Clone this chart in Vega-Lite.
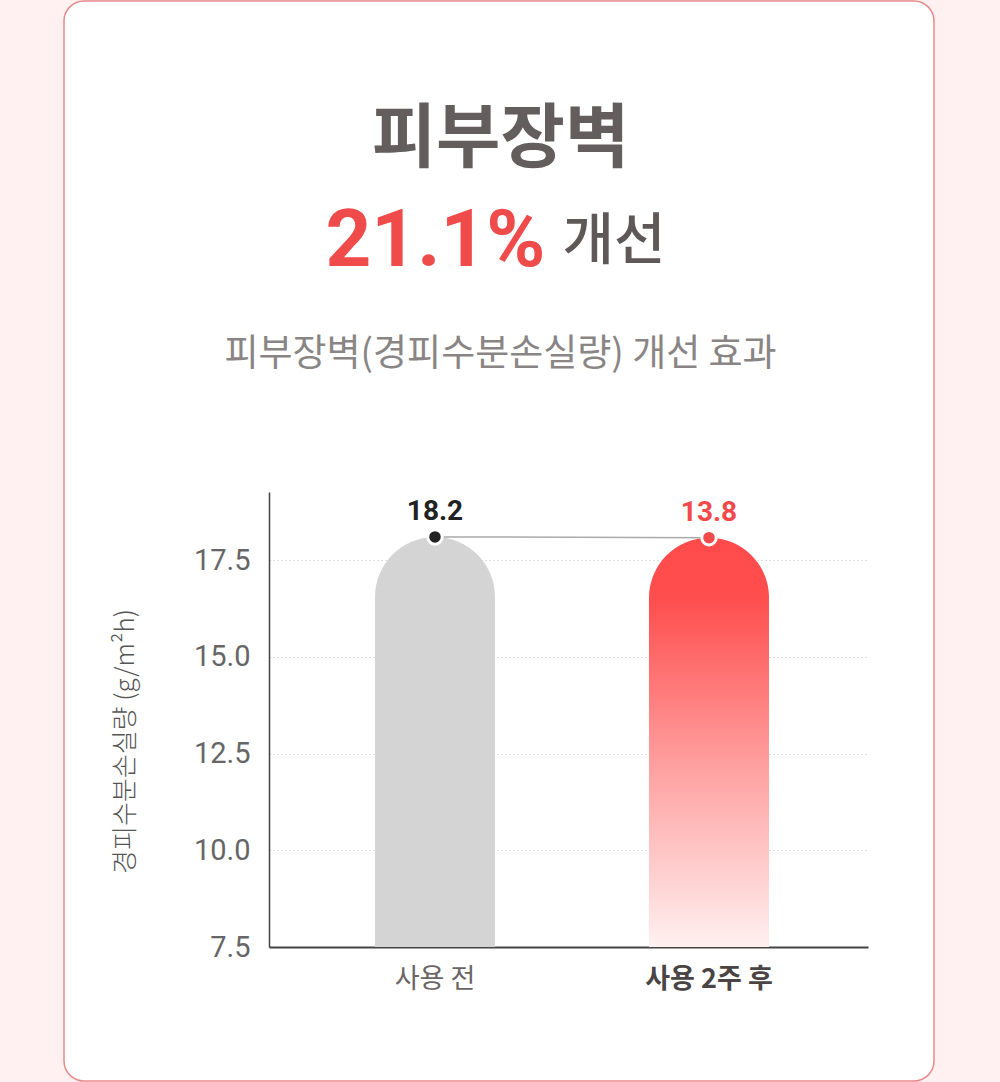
{
  "$schema": "https://vega.github.io/schema/vega-lite/v6.json",
  "description": "피부장벽(경피수분손실량) 개선 효과",
  "width": 870,
  "height": 1080,
  "autosize": {"type": "none"},
  "padding": {"left": 64, "top": 1, "right": 66, "bottom": 1},
  "background": "#fff1f1",
  "config": {
    "view": {"fill": "#ffffff", "stroke": "#e98a8a", "strokeWidth": 1.5, "cornerRadius": 20},
    "font": "Noto Sans CJK KR"
  },
  "data": {
    "values": [
      {"category": "사용 전", "barTop": 18.1, "label": "18.2"},
      {"category": "사용 2주 후", "barTop": 18.08, "label": "13.8"}
    ]
  },
  "resolve": {"axis": {"x": "independent"}},
  "encoding": {
    "y": {
      "field": "barTop",
      "type": "quantitative",
      "title": "경피수분손실량 (g/m²h)",
      "scale": {"domain": [7.5, 19.26], "range": [946, 491], "nice": false, "zero": false},
      "axis": {
        "offset": -205,
        "values": [7.5, 10, 12.5, 15, 17.5],
        "format": ".1f",
        "domainColor": "#444444",
        "domainWidth": 1.5,
        "ticks": false,
        "labelPadding": 19,
        "labelFontSize": 29,
        "labelFont": "Roboto",
        "labelColor": "#666666",
        "grid": true,
        "gridColor": "#d6d6d6",
        "gridDash": [1.5, 2.5],
        "titleFont": "Noto Sans CJK KR",
        "titleFontSize": 26,
        "titleFontWeight": 300,
        "titleColor": "#555555",
        "titleX": -144,
        "titleY": 740,
        "titleAlign": "center",
        "titleBaseline": "middle",
        "titleAngle": -90
      }
    }
  },
  "layer": [
    {
      "mark": {"type": "bar", "cornerRadiusTopLeft": 60, "cornerRadiusTopRight": 60},
      "encoding": {
        "x": {
          "field": "category",
          "type": "nominal",
          "sort": ["사용 전", "사용 2주 후"],
          "scale": {"range": [205, 804], "paddingInner": 0.562, "paddingOuter": 0.374, "align": 0.517},
          "axis": {
            "orient": "bottom",
            "offset": -134,
            "title": null,
            "labelAngle": 0,
            "domainColor": "#444444",
            "domainWidth": 2,
            "ticks": false,
            "labelPadding": 19,
            "labelFontSize": 27,
            "labelFont": "Noto Sans CJK KR",
            "labelColor": {"condition": {"test": "datum.value == '사용 2주 후'", "value": "#4a4444"}, "value": "#6a6464"},
            "labelFontWeight": {"condition": {"test": "datum.value == '사용 2주 후'", "value": "bold"}, "value": "normal"}
          }
        },
        "y2": {"datum": 7.5},
        "color": {
          "condition": {"test": "datum.category == '사용 전'", "value": "#d4d4d4"},
          "value": {
            "gradient": "linear",
            "x1": 0, "y1": 0, "x2": 0, "y2": 1,
            "stops": [
              {"offset": 0, "color": "#ff4a4a"},
              {"offset": 0.15, "color": "#ff4e4e"},
              {"offset": 0.55, "color": "#ff9e9e"},
              {"offset": 1, "color": "#fff0f0"}
            ]
          }
        }
      }
    },
    {
      "mark": {"type": "line", "color": "#aaaaaa", "strokeWidth": 1.5},
      "encoding": {
        "x": {"field": "category", "type": "nominal", "sort": ["사용 전", "사용 2주 후"], "axis": null}
      }
    },
    {
      "mark": {"type": "point", "filled": true, "size": 210, "stroke": "#ffffff", "strokeWidth": 3, "opacity": 1},
      "encoding": {
        "x": {"field": "category", "type": "nominal", "sort": ["사용 전", "사용 2주 후"], "axis": null},
        "fill": {
          "field": "category",
          "type": "nominal",
          "scale": {"domain": ["사용 전", "사용 2주 후"], "range": ["#222222", "#f24a4a"]},
          "legend": null
        }
      }
    },
    {
      "mark": {"type": "text", "fontSize": 28, "fontWeight": "bold", "font": "Roboto", "baseline": "alphabetic", "dy": -17},
      "encoding": {
        "x": {"field": "category", "type": "nominal", "sort": ["사용 전", "사용 2주 후"], "axis": null},
        "text": {"field": "label"},
        "color": {
          "condition": {"test": "datum.category == '사용 전'", "value": "#222222"},
          "value": "#f24a4a"
        }
      }
    },
    {
      "mark": {"type": "point", "opacity": 0},
      "encoding": {
        "x": {
          "field": "category", "type": "nominal", "sort": ["사용 전", "사용 2주 후"],
          "axis": {
            "orient": "top", "domain": false, "ticks": false, "labels": false, "grid": false,
            "title": "피부장벽",
            "titleFontSize": 70, "titleFontWeight": "bold", "titleColor": "#645d5d",
            "titleX": 436, "titleY": 160, "titleAlign": "center", "titleBaseline": "alphabetic"
          }
        }
      }
    },
    {
      "mark": {"type": "point", "opacity": 0},
      "encoding": {
        "x": {
          "field": "category", "type": "nominal", "sort": ["사용 전", "사용 2주 후"],
          "axis": {
            "orient": "top", "domain": false, "ticks": false, "labels": false, "grid": false,
            "title": "21.1%",
            "titleFont": "Roboto",
            "titleFontSize": 80, "titleFontWeight": "bold", "titleColor": "#f04b4b",
            "titleX": 481, "titleY": 264, "titleAlign": "right", "titleBaseline": "alphabetic"
          }
        }
      }
    },
    {
      "mark": {"type": "point", "opacity": 0},
      "encoding": {
        "x": {
          "field": "category", "type": "nominal", "sort": ["사용 전", "사용 2주 후"],
          "axis": {
            "orient": "top", "domain": false, "ticks": false, "labels": false, "grid": false,
            "title": "개선",
            "titleFontSize": 56, "titleFontWeight": 500, "titleColor": "#5f5858",
            "titleX": 498, "titleY": 257, "titleAlign": "left", "titleBaseline": "alphabetic"
          }
        }
      }
    },
    {
      "mark": {"type": "point", "opacity": 0},
      "encoding": {
        "x": {
          "field": "category", "type": "nominal", "sort": ["사용 전", "사용 2주 후"],
          "axis": {
            "orient": "top", "domain": false, "ticks": false, "labels": false, "grid": false,
            "title": "피부장벽(경피수분손실량) 개선 효과",
            "titleFontSize": 37, "titleFontWeight": "normal", "titleColor": "#8a8585",
            "titleX": 436, "titleY": 364, "titleAlign": "center", "titleBaseline": "alphabetic"
          }
        }
      }
    }
  ]
}
